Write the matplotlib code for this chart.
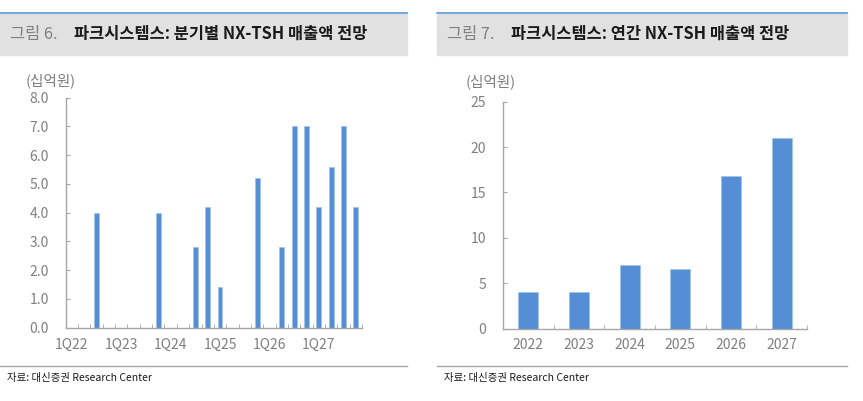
import numpy as np
import matplotlib
matplotlib.use('Agg')
from matplotlib import pyplot as plt
from matplotlib.patches import Rectangle
from matplotlib.lines import Line2D

plt.rcParams['font.family'] = ['Noto Sans CJK KR', 'DejaVu Sans']

# datos
quarters = [f'{q}Q{y}' for y in range(22, 28) for q in range(1, 5)]
q_values = [0, 0, 4.0, 0, 0, 0, 0, 4.0, 0, 0, 2.8, 4.2,
            1.4, 0, 0, 5.2, 0, 2.8, 7.0, 7.0, 4.2, 5.6, 7.0, 4.2]
years = ['2022', '2023', '2024', '2025', '2026', '2027']
y_values = [4.0, 4.0, 7.0, 6.6, 16.8, 21.0]

W, H = 863, 401
fig = plt.figure(figsize=(W / 100, H / 100), dpi=100)

bar_col = '#558ED5'
axis_col = '#A6A6A6'
txt_col = '#7F7F7F'

def px(x0, y0, x1, y1):
    "caja en pixeles -> fracciones de la figura"
    return [x0 / W, 1 - y1 / H, (x1 - x0) / W, (y1 - y0) / H]

def encabezado(x0, x1, num, titulo):
    fig.patches.append(Rectangle((x0 / W, 1 - 55 / H), (x1 - x0) / W, 42 / H,
                                 transform=fig.transFigure, color='#E1E1E1', zorder=0))
    fig.lines.append(Line2D([x0 / W, x1 / W], [1 - 12.5 / H] * 2, transform=fig.transFigure,
                            color='#5B9BD5', lw=1.2))
    fig.text((x0 + 10) / W, 1 - 34 / H, num, fontsize=11.8, color='#808080', va='center')
    fig.text((x0 + 74) / W, 1 - 34 / H, titulo, fontsize=11.8, fontweight='bold',
             color='#1A1A1A', va='center')
    fig.lines.append(Line2D([x0 / W, x1 / W], [1 - 366 / H] * 2, transform=fig.transFigure,
                            color='#A6A6A6', lw=1.0))
    fig.text((x0 + 7) / W, 1 - 378 / H, '자료: 대신증권 Research Center', fontsize=7.5,
             color='#1A1A1A', va='center')

def estilo(ax):
    for s in ['top', 'right']:
        ax.spines[s].set_visible(False)
    for s in ['left', 'bottom']:
        ax.spines[s].set_color(axis_col)
        ax.spines[s].set_linewidth(1.0)
    ax.tick_params(axis='both', which='both', direction='in', color=axis_col,
                   labelcolor=txt_col, labelsize=10)
    ax.tick_params(axis='x', which='major', length=0, pad=7)
    ax.tick_params(axis='x', which='minor', length=3)
    ax.tick_params(axis='y', length=3, pad=12)

encabezado(0, 407, '그림 6.', '파크시스템스: 분기별 NX-TSH 매출액 전망')
encabezado(437, 847, '그림 7.', '파크시스템스: 연간 NX-TSH 매출액 전망')

# Grafica 1: trimestral
ax1 = fig.add_axes(px(65.7, 97.7, 362, 327.7))
x1 = np.arange(len(quarters))
ax1.bar(x1, q_values, width=0.4, color=bar_col, edgecolor='#9DC3E6', linewidth=0.4)
ax1.set_xlim(-0.5, len(quarters) - 0.5)
ax1.set_ylim(0, 8)
ax1.set_yticks(np.arange(0, 8.1, 1))
ax1.set_yticklabels([f'{v:.1f}' for v in np.arange(0, 8.1, 1)])
ax1.set_xticks(x1[::4])
ax1.set_xticklabels(quarters[::4])
ax1.set_xticks(np.arange(-0.5, len(quarters), 1), minor=True)
estilo(ax1)
fig.text(51 / W, 1 - 81 / H, '(십억원)', fontsize=10.5, color=txt_col, ha='center', va='center')

# Grafica 2: anual
ax2 = fig.add_axes(px(503, 101.7, 807, 328.7))
x2 = np.arange(len(years))
ax2.bar(x2, y_values, width=0.39, color=bar_col, edgecolor='#9DC3E6', linewidth=0.4)
ax2.set_xlim(-0.5, len(years) - 0.5)
ax2.set_ylim(0, 25)
ax2.set_yticks(np.arange(0, 26, 5))
ax2.set_xticks(x2)
ax2.set_xticklabels(years)
ax2.set_xticks(np.arange(-0.5, len(years), 1), minor=True)
estilo(ax2)
fig.text(491 / W, 1 - 82 / H, '(십억원)', fontsize=10.5, color=txt_col, ha='center', va='center')

fig.savefig('out.png', dpi=100)
